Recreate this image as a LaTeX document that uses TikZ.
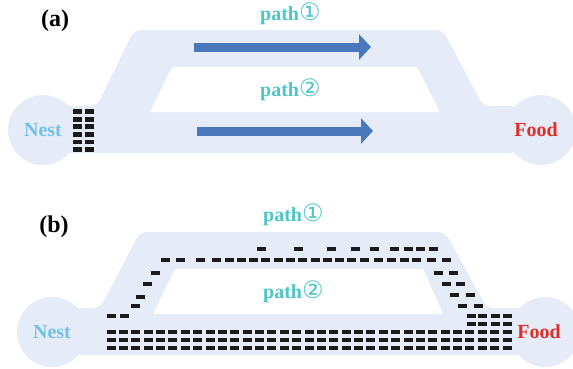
\documentclass[tikz,border=0pt]{standalone}
\usepackage{fontspec}
\setmainfont{Liberation Serif}
\newfontfamily\circfont{DejaVu Sans}
\usetikzlibrary{arrows.meta}
\definecolor{trackbg}{HTML}{E6ECF7}
\definecolor{arrowblue}{HTML}{4A78BC}
\definecolor{pathteal}{HTML}{4EC5C8}
\definecolor{nestblue}{HTML}{6FC2E6}
\definecolor{foodred}{HTML}{DD2E28}
\definecolor{antblack}{HTML}{1A1A1A}
\tikzset{
  track/.style={fill=trackbg,rounded corners=7pt},
  hole/.style={fill=white,rounded corners=1.5pt},
  site/.style={circle,fill=trackbg,minimum size=70pt,inner sep=0pt,
    font=\fontsize{20}{20}\selectfont\bfseries},
  panellbl/.style={font=\fontsize{24}{24}\selectfont\bfseries,text=black},
  pathlbl/.style={anchor=base west,inner sep=0pt,
    font=\fontsize{20}{20}\selectfont\bfseries,text=pathteal},
  flow/.style={arrowblue,line width=9pt,-{Triangle[length=12pt,width=25pt]}},
}
\newcommand{\circnum}[1]{{\circfont\mdseries\fontsize{24}{24}\selectfont#1}}
\newcommand{\ant}[2]{\fill[antblack] ({#1-4.5},{#2-2.4}) rectangle ++(9,4.8);}

\begin{document}
\begin{tikzpicture}[x=1pt,y=-1pt]
  \useasboundingbox (0,0) rectangle (573,368);

  % (a) two paths, ants waiting at the nest
  \fill[track] (60,153) -- (60,106) -- (97,106) -- (134,30) -- (443,30)
    -- (483,106) -- (518,106) -- (518,153) -- cycle;
  \fill[hole] (172,67) -- (417,67) -- (440,112) -- (150,112) -- cycle;
  \node[site,text=nestblue] (nestA) at (43,130) {Nest};
  \node[site,label={[xshift=-5pt,text=foodred,
    font=\fontsize{20}{20}\selectfont\bfseries]center:Food}] (foodA) at (541,130) {};

  \node[panellbl] (lblA) at (55,21) {(a)};
  \node[pathlbl] (pathOneA) at (260,20) {path\circnum{①}};
  \node[pathlbl] (pathTwoA) at (260,96) {path\circnum{②}};

  \coordinate (upStartA) at (194,47);
  \coordinate (upEndA) at (371,47);
  \coordinate (lowStartA) at (197,131);
  \coordinate (lowEndA) at (373,131);
  \draw[flow] (upStartA) -- (upEndA);
  \draw[flow] (lowStartA) -- (lowEndA);

  \foreach \r in {0,...,5}
    \foreach \c in {77.5,89} {\ant{\c}{111.5+7.6*\r}}

  % (b) ants spread over both paths
  \begin{scope}[yshift=-202pt]
    \fill[track] (68,153) -- (68,106) -- (100,106) -- (140,30) -- (445,30)
      -- (487,106) -- (525,106) -- (525,153) -- cycle;
    \fill[hole] (175,67) -- (423,67) -- (443,112) -- (153,112) -- cycle;
    \node[site,text=nestblue] (nestB) at (52,130) {Nest};
    \node[site,label={[xshift=-6pt,text=foodred,
      font=\fontsize{20}{20}\selectfont\bfseries]center:Food}] (foodB) at (545,130) {};

    \node[panellbl] (lblB) at (54,25) {(b)};
    \node[pathlbl] (pathOneB) at (263,19) {path\circnum{①}};
    \node[pathlbl] (pathTwoB) at (263,96) {path\circnum{②}};

    \foreach \x in {261,298,331,355,374,394,408,420,433} {\ant{\x}{47}}
    \foreach \x in {165.5,180.5,200.5,216,229,241,253,265,278,290,302,315,
      327,339,351,364,378,391,404,416,431,446} {\ant{\x}{58}}
    \foreach \x/\y in {155/71,147/82,140/95,135/104,111/114,124/114} {\ant{\x}{\y}}
    \foreach \x/\y in {438/71,453/71,446/82,460/82,454/93,470/93,462/104,478/104}
      {\ant{\x}{\y}}
    \foreach \y in {114,122}
      \foreach \x in {471,482,495,507} {\ant{\x}{\y}}
    \foreach \y in {130,138,146}
      \foreach \i in {0,...,32} {\ant{111+12.375*\i}{\y}}
  \end{scope}
\end{tikzpicture}
\end{document}
